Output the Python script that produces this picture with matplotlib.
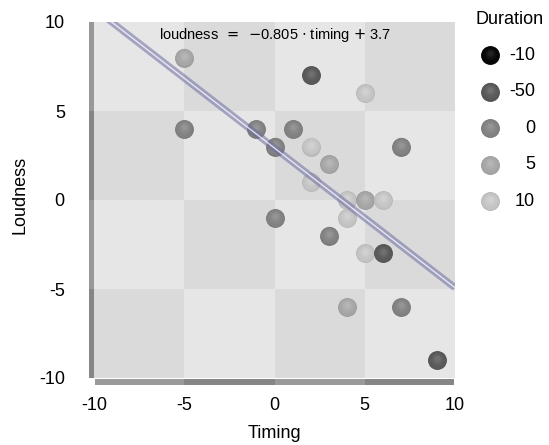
import numpy as np
import matplotlib
matplotlib.use('Agg')
import matplotlib.pyplot as plt
import matplotlib.transforms as mtransforms
from matplotlib.patches import Rectangle
from matplotlib.colors import to_rgb

plt.rcParams['font.family'] = ['Liberation Sans Narrow', 'Liberation Sans', 'DejaVu Sans']

# data
timing = [-5, 2, 5, -5, -1, 1, 0, 2, 7, 3, 2, 4, 5, 6, 0, 4, 3, 5, 6, 4, 7, 9]
loudness = [8, 7, 6, 4, 4, 4, 3, 3, 3, 2, 1, 0, 0, 0, -1, -1, -2, -3, -3, -6, -6, -9]
duration = [5, -50, 10, 0, 0, 0, 0, 10, 0, 5, 10, 10, 5, 10, 0, 10, 0, 10, -50, 5, 0, -50]

legend_values = [-10, -50, 0, 5, 10]
legend_labels = ['-10', '-50', '0', '5', '10']
gray_of = {-10: '#050505', -50: '#5c5c5c', 0: '#868686', 5: '#acacac', 10: '#cbcbcb'}

ticks = [-10, -5, 0, 5, 10]
tick_labels = ['-10', '-5', '0', '5', '10']
eq_text = r'loudness $\,=\,$ $-$0.805 $\cdot$ timing $+$ 3.7'

fig = plt.figure(figsize=(5.49, 4.45), dpi=100)
ax = fig.add_axes([94/549, 1-378/445, 361/549, 356/445])
ax.set_xlim(-10, 10)
ax.set_ylim(-10, 10)


def balls(axis, xs, ys, cols, s=185, z=3):
    # fake shaded spheres: stacked discs getting a little lighter towards the top
    n = 9
    for i, (x, y, c) in enumerate(zip(xs, ys, cols)):
        base = np.array(to_rgb(c))
        zz = z + i * 0.01
        axis.scatter([x], [y], s=s, color=base * 0.9, linewidths=0, zorder=zz, clip_on=False)
        for k in range(1, n + 1):
            f = k / n
            tr = mtransforms.offset_copy(axis.transData, fig=fig, x=0, y=1.5 * f, units='points')
            col = np.clip(base * (0.95 + 0.05 * f) + (1 - base) * 0.12 * f ** 2, 0, 1)
            axis.scatter([x], [y], s=s * (1 - 0.75 * f) ** 2, color=col, linewidths=0,
                         zorder=zz + 0.0005 * k, transform=tr, clip_on=False)


# checkerboard background
for i in range(4):
    for j in range(4):
        c = '#e6e6e6' if (i + j) % 2 else '#dadada'
        ax.add_patch(Rectangle((-10 + 5*i, -10 + 5*j), 5, 5, color=c, lw=0, zorder=0))

# frame bars left / bottom
for j in range(4):
    c = '#989898' if j % 2 else '#868686'
    ax.add_patch(Rectangle((-10.28, -10 + 5*j), 0.28, 5, color=c, lw=0, clip_on=False))
for i in range(4):
    c = '#9a9a9a' if i % 2 == 0 else '#868686'
    ax.add_patch(Rectangle((-10 + 5*i + (0.06 if i == 0 else 0), -10.38),
                           5 - (0.06 if i in (0, 3) else 0), 0.32, color=c, lw=0, clip_on=False))

balls(ax, timing, loudness, [gray_of[d] for d in duration])

# regression line
slope, intercept = np.polyfit(timing, loudness, 1)
lx = np.array([-10, 10])
ax.plot(lx, slope*lx + intercept, color='#6c6ca4', alpha=0.55, lw=5, zorder=10, solid_capstyle='butt')
ax.plot(lx, slope*lx + intercept, color='white', alpha=0.75, lw=1, zorder=11, solid_capstyle='butt')

ax.text(0, 9.27, eq_text, ha='center', va='center', fontsize=10.5, zorder=12)

for sp in ax.spines.values():
    sp.set_visible(False)
ax.set_xticks(ticks, tick_labels)
ax.set_yticks(ticks, tick_labels)
ax.tick_params(axis='x', length=0, pad=14, labelsize=13)
ax.tick_params(axis='y', length=0, pad=21, labelsize=13)

fig.text(274/549, 1-438/445, 'Timing', ha='center', va='baseline', fontsize=13)
fig.text(20/549, 1-195/445, 'Loudness', ha='center', va='center', rotation=90, fontsize=13)

# legend
fig.text(510/549, 1-20/445, 'Duration', ha='center', va='center', fontsize=13)
lax = fig.add_axes([470/549, 1-220/445, 79/549, 180/445])
lax.set_xlim(470, 549)
lax.set_ylim(220, 40)
lax.axis('off')
ly = [55 + 36.6*k for k in range(len(legend_values))]
balls(lax, [490]*len(ly), ly, [gray_of[v] for v in legend_values])
for yy, lab in zip(ly, legend_labels):
    lax.text(535, yy, lab, ha='right', va='center', fontsize=13)

fig.savefig('out.png', dpi=100)
